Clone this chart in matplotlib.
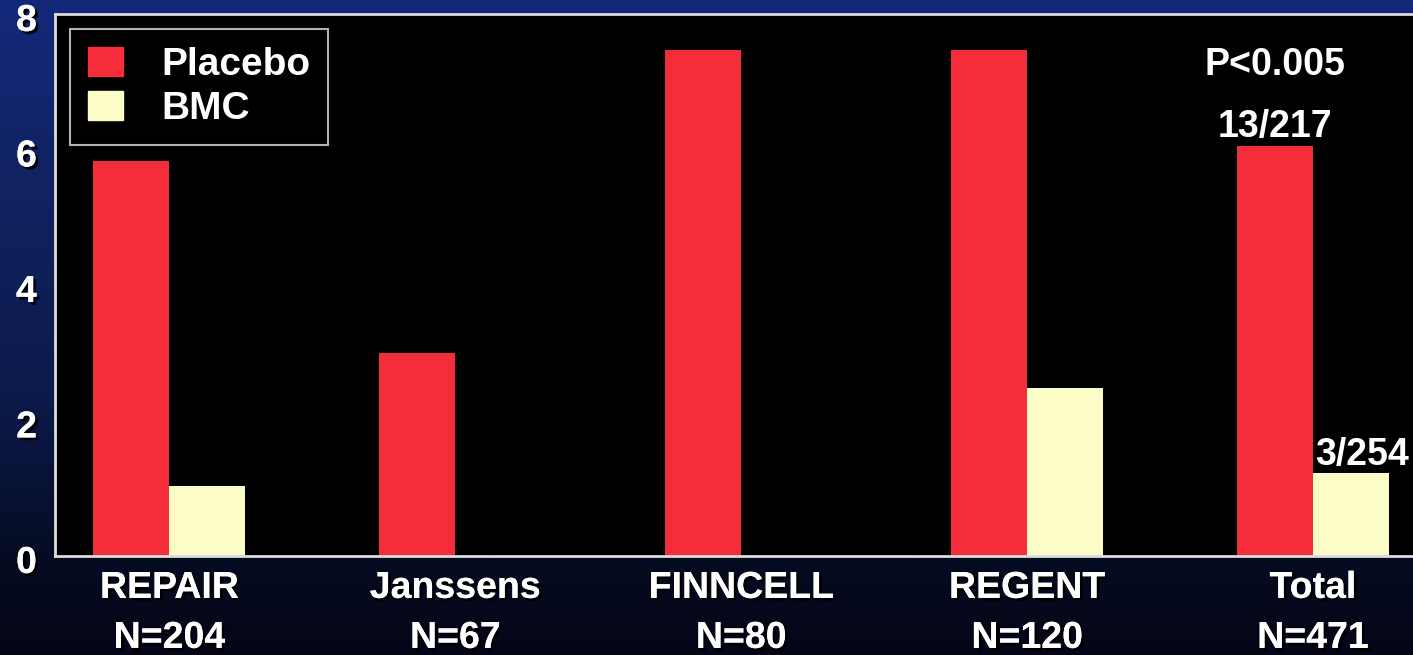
import matplotlib.pyplot as plt
import matplotlib.patheffects as pe
import matplotlib.transforms as mtransforms
import numpy as np
from matplotlib.colors import LinearSegmentedColormap
from matplotlib.patches import Patch

studies = ["REPAIR", "Janssens", "FINNCELL", "REGENT", "Total"]
sizes = ["N=204", "N=67", "N=80", "N=120", "N=471"]
placebo = [5.83, 3.0, 7.47, 7.47, 6.05]
bmc = [1.03, 0.0, 0.0, 2.48, 1.22]
yticks = [0, 2, 4, 6, 8]

RED = "#f52d3a"
CREAM = "#fcfcc8"
FONT = "Liberation Sans"
shadow = [pe.withSimplePatchShadow(offset=(2, -2), shadow_rgbFace="#000000", alpha=0.9), pe.Normal()]

fig = plt.figure(figsize=(14.13, 6.55), dpi=100)

# background gradient (blue at top fading to near black)
bg = fig.add_axes([0, 0, 1, 1], zorder=0)
grad = LinearSegmentedColormap.from_list("bg", [
    (0.0, "#14287a"), (0.3, "#10225f"), (0.6, "#0c1a4c"),
    (0.85, "#050c22"), (1.0, "#050518")])
bg.imshow(np.linspace(0, 1, 256).reshape(-1, 1), aspect="auto", cmap=grad,
          extent=[0, 1, 0, 1], origin="upper")
bg.set_axis_off()

W, H = 1413, 655
ax = fig.add_axes([55 / W, 1 - 556 / H, (1440 - 55) / W, (556 - 14) / H], zorder=1)
ax.set_facecolor("black")

x = np.arange(len(studies))
w = 0.266
ax.bar(x - w / 2, placebo, w, color=RED, label="Placebo", zorder=2)
ax.bar(x + w / 2, bmc, w, color=CREAM, label="BMC", zorder=2)

ax.set_xlim(-0.40, (1440 - 170) / 285.75)
ax.set_ylim(0, 8)

for s in ["left", "top", "bottom"]:
    ax.spines[s].set_color("#dcdcdc")
    ax.spines[s].set_linewidth(2)
ax.spines["right"].set_visible(False)

ax.set_yticks(yticks)
ax.set_yticklabels([str(v) for v in yticks])
ax.set_xticks(x)
ax.set_xticklabels([f"{s}\n{n}" for s, n in zip(studies, sizes)], linespacing=1.5)
ax.tick_params(length=0)
ax.tick_params(axis="y", pad=13)
ax.tick_params(axis="x", pad=10)
for lab in ax.get_xticklabels() + ax.get_yticklabels():
    lab.set_fontfamily(FONT)
    lab.set_fontweight("bold")
    lab.set_fontsize(27)
    lab.set_color("white")
    lab.set_path_effects(shadow)
down = mtransforms.ScaledTranslation(0, -5 / 72, fig.dpi_scale_trans)
for lab in ax.get_yticklabels():
    lab.set_verticalalignment("center")
    lab.set_transform(lab.get_transform() + down)

handles = [Patch(color=RED, label="Placebo"), Patch(color=CREAM, label="BMC")]
leg = ax.legend(handles=handles, loc="upper left", bbox_to_anchor=(15 / 1385, 1 - 15 / 542),
                frameon=True, facecolor="black", edgecolor="#e0e0e0", fancybox=False,
                prop={"family": FONT, "weight": "bold", "size": 28},
                handlelength=0.9, handleheight=0.8, handletextpad=1.0,
                labelspacing=0.2, borderpad=0.45, borderaxespad=0)
leg.get_frame().set_linewidth(1.5)
for t in leg.get_texts():
    t.set_color("white")

tkw = dict(color="white", fontsize=27, fontweight="bold", family=FONT,
           ha="center", va="center", zorder=3)
ax.text(4 - w / 2, 7.25, "P<0.005", **tkw)
ax.text(4 - w / 2, placebo[4] + 0.28, "13/217", **tkw)
ax.text(4 + w / 2 + 0.04, bmc[4] + 0.27, "3/254", **tkw)

fig.savefig("out.png", dpi=100)
